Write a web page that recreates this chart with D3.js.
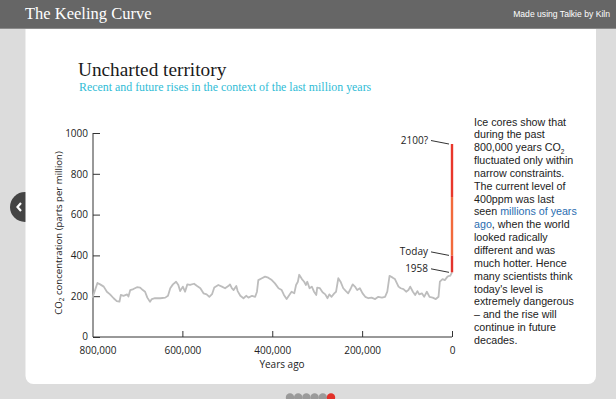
<!DOCTYPE html>
<html><head><meta charset="utf-8">
<script src="https://cdn.jsdelivr.net/npm/d3@7"></script>
<style>
html,body{margin:0;padding:0;background:#dcdcdc;}
svg{display:block;}
</style></head>
<body>
<script>
// ---- data ----
const yearsAgo = [800000,789000,783000,775000,768000,761000,753000,746000,740000,737000,731000,723000,720000,716000,709000,701000,694000,688000,683000,678000,672000,668000,661000,649000,638000,632000,627000,621000,614000,609000,605000,599000,594000,589000,583000,574000,568000,560000,553000,546000,540000,534000,529000,520000,512000,505000,497000,494000,490000,486000,480000,477000,471000,464000,458000,453000,445000,438000,434000,431000,423000,416000,409000,401000,394000,386000,379000,374000,368000,362000,357000,351000,347000,343000,340000,334000,329000,325000,322000,317000,312000,307000,302000,300000,294000,288000,282000,277000,273000,268000,262000,258000,253000,248000,242000,236000,231000,225000,221000,216000,211000,205000,199000,193000,186000,179000,171000,164000,156000,149000,144000,139000,132000,127000,119000,114000,108000,102000,97000,93000,87000,82000,77000,73000,67000,62000,56000,50000,43000,36000,30000,27000,21000,16000,10000,6000,4000,0];
const co2 = [192,265,258,247,222,209,190,176,173,206,202,209,198,230,235,244,242,230,222,193,173,186,190,190,193,202,239,258,271,255,225,247,222,258,255,261,251,239,214,209,197,210,243,255,247,239,251,258,239,230,250,225,202,190,202,193,202,197,222,279,288,296,291,279,263,239,230,206,186,206,222,214,255,271,305,284,271,255,271,239,247,222,206,242,239,219,209,190,209,197,214,222,288,271,239,225,214,239,258,247,230,239,214,197,190,193,186,197,193,197,222,300,291,284,247,239,235,222,230,247,222,206,225,209,214,197,222,197,193,186,197,271,284,279,296,300,300,317];
const modernLabels = ["1958","Today","2100?"];
const modernCO2 = [317, 400, 946];
const modernBreak = 686;
const yTicks = [0,200,400,600,800,1000];
const xTicks = [800000,600000,400000,200000,0];
const paragraph = [
 ["Ice cores show that"],["during the past"],["800,000 years CO","₂"],["fluctuated only within"],["narrow constraints."],
 ["The current level of"],["400ppm was last"],["seen ","millions of years"],["ago",", when the world"],
 ["looked radically"],["different and was"],["much hotter. Hence"],["many scientists think"],["today's level is"],
 ["extremely dangerous"],["– and the rise will"],["continue in future"],["decades."]
];

const W=616,H=399;
const svg=d3.select("body").append("svg").attr("width",W).attr("height",H);

// background & header
svg.append("rect").attr("width",W).attr("height",H).attr("fill","#dcdcdc");
svg.append("circle").attr("cx",25).attr("cy",207).attr("r",15).attr("fill","#444");
svg.append("path").attr("d","M21,203 L17.5,207 L21,211").attr("fill","none").attr("stroke","#fff").attr("stroke-width",2.2);
svg.append("rect").attr("x",25.5).attr("y",20).attr("width",570.5).attr("height",364).attr("rx",8).attr("fill","#fff");
svg.append("rect").attr("width",W).attr("height",28).attr("fill","#666");
svg.append("line").attr("x1",0).attr("x2",W).attr("y1",28.5).attr("y2",28.5).attr("stroke","#8a8a8a");
svg.append("text").attr("x",25).attr("y",19).text("The Keeling Curve")
  .attr("font-family","Liberation Serif, serif").attr("font-size",16.5).attr("fill","#fff");
svg.append("text").attr("x",610).attr("y",16.5).attr("text-anchor","end").text("Made using Talkie by Kiln")
  .attr("font-family","Liberation Sans, Arial, sans-serif").attr("font-size",8.6).attr("fill","#fff");

// pagination dots
const dots=[0,1,2,3,4,5];
svg.selectAll("circle.dot").data(dots).enter().append("circle").attr("class","dot")
  .attr("cx",d=>290+d*8.2).attr("cy",397.5).attr("r",4.2)
  .attr("fill",d=>d===5?"#e2312a":"#9a9a9a");

// titles
svg.append("text").attr("x",78).attr("y",76).text("Uncharted territory")
  .attr("font-family","Liberation Serif, serif").attr("font-size",19.3).attr("fill","#1a1a1a");
svg.append("text").attr("x",79).attr("y",91).text("Recent and future rises in the context of the last million years")
  .attr("font-family","Liberation Serif, serif").attr("font-size",11.9).attr("fill","#2fbcd6");

// scales
const x=d3.scaleLinear().domain([800000,0]).range([92.5,452]);
const y=d3.scaleLinear().domain([0,1000]).range([337,133]);
const font="Open Sans, sans-serif";

// axes
const yAxis=d3.axisRight(y).tickValues(yTicks).tickSize(7).tickFormat(d3.format("d"));
const gy=svg.append("g").attr("transform","translate(93,0)").call(yAxis);
gy.select(".domain").attr("stroke","#333").attr("d","M0,133V337");
gy.selectAll(".tick line").attr("stroke","#333");
gy.selectAll(".tick text").attr("x",-5).attr("text-anchor","end").attr("font-family",font).attr("font-size",10).attr("fill","#222")
  .attr("dy",d=>d===0?"0.22em":"0.32em");

const xAxis=d3.axisTop(x).tickValues(xTicks).tickSize(6).tickFormat(d3.format(","));
const gx=svg.append("g").attr("transform","translate(0,337)").call(xAxis);
gx.select(".domain").attr("stroke","#333").attr("d","M93,0H452");
gx.selectAll(".tick line").attr("stroke","#333");
gx.selectAll(".tick text").attr("y",10).attr("dy","0.71em").attr("font-family",font).attr("font-size",10).attr("fill","#222")
  .attr("dx",d=>d===800000?5:0);
gx.selectAll(".tick").filter(d=>d===800000).select("line").remove();

svg.append("text").attr("transform","translate(62,233) rotate(-90)").attr("text-anchor","middle")
  .attr("font-family",font).attr("font-size",9.6).attr("fill","#222")
  .html('CO<tspan font-size="6.5" dy="2">2</tspan><tspan dy="-2"> concentration (parts per million)</tspan>');
svg.append("text").attr("x",282).attr("y",368).attr("text-anchor","middle").text("Years ago")
  .attr("font-family",font).attr("font-size",10).attr("fill","#222");

// gray ice-core line
const pts=yearsAgo.map((d,i)=>[d,co2[i]]);
svg.append("path").datum(pts).attr("fill","none").attr("stroke","#bdbdbd").attr("stroke-width",1.8)
  .attr("stroke-linejoin","round")
  .attr("d",d3.line().x(d=>x(d[0])).y(d=>y(d[1])));

// modern rise
const segs=[[modernCO2[0],modernCO2[1],"#e3332c"],[modernCO2[1],modernBreak,"#f26a3c"],[modernBreak,modernCO2[2],"#e9372b"]];
svg.selectAll("line.seg").data(segs).enter().append("line").attr("class","seg")
  .attr("x1",x(0)).attr("x2",x(0)).attr("y1",d=>y(d[0])).attr("y2",d=>y(d[1]))
  .attr("stroke",d=>d[2]).attr("stroke-width",2.4);

// annotations
modernLabels.forEach((lab,i)=>{
  const yy=y(modernCO2[i]);
  svg.append("line").attr("x1",x(0)-21).attr("y1",yy-3.5).attr("x2",x(0)-3).attr("y2",yy)
    .attr("stroke","#333").attr("stroke-width",1);
  svg.append("text").attr("x",x(0)-24).attr("y",yy-3.5).attr("dy","0.35em").attr("text-anchor","end")
    .text(lab).attr("font-family",font).attr("font-size",10).attr("fill","#222");
});

// paragraph
paragraph.forEach((parts,i)=>{
  const yy=125.5+i*12.85;
  const t=svg.append("text").attr("x",474).attr("y",yy).attr("font-family","Liberation Sans, Arial, sans-serif").attr("font-size",10.7).attr("fill","#222");
  parts.forEach((p,j)=>{
    const ts=t.append("tspan").text(p);
    if(p==="₂"){ts.text("2").attr("font-size",6.5).attr("dy",2.5);}
    if(p==="millions of years"||p==="ago") ts.attr("fill","#2a6db0");
  });
});
</script>
</body></html>
